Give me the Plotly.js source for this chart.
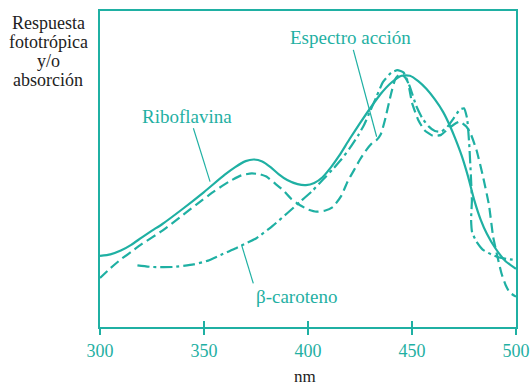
<!DOCTYPE html>
<html>
<head>
<meta charset="utf-8">
<script src="https://cdn.plot.ly/plotly-3.0.1.min.js"></script>
<style>html,body{margin:0;padding:0;background:#fff;}#chart{width:530px;height:389px;}</style>
</head>
<body>
<div id="chart"></div>
<script>
// Wavelengths (nm) and relative values
const nmRibo = [300,305,310,315,320,325,330,340,350,360,365,370,374,378,382,386,390,395,399,403,407,411,415,420,425,430,435,440,445,449,453,457,461,465,468,471,474,477,480,483,486,490,495,500];
const riboflavina = [22.5,23,24.2,26,28.3,30.5,32.6,37.5,42.7,48.2,50.6,52.5,53,52.4,50.6,48.3,46.5,45.2,44.9,45.6,47.4,50.5,54.2,59.5,64.5,69.3,73.8,77.3,79.5,79.5,77.8,75.3,72,68,64,59.3,54,47.5,40,34,29.5,25,20.8,18.4];

const nmAccion = [300,305,310,315,320,330,340,346,355,362,368,373,377,380,384,388,392,396,400,404,408,412,416,419,422,425,428,431,433,435,437,440,442,444,446,448,450,453,456,460,464,467,470,473,476,478,481,484,487,489,491,493,495,497,500];
const espectroAccion = [15.5,18.6,21.4,23.8,26.2,30.5,35.5,38.6,43,46,48,48.6,48.3,47.6,45.5,43.3,40.5,38.6,37.2,36.5,36.8,38,41.5,46,49.5,53,56,58.3,59.2,61,65.5,74,78.5,80,79.5,77.5,71,65.5,62.3,60.5,60.8,62.5,64,65,63.5,61.5,56,48,38.6,28.6,22.5,17,13.3,10.9,9.6];

const nmCaroteno = [318,325,335,345,352,358,364,368,375,383,390,396,402,407,412,416,420,424,427,430,433,436,440,443,446,449,452,455,458,461,464,467,470,473,475,476.5,477.5,478.3,478.8,478.4,478.9,481,484,488,492,496,500];
const betaCaroteno = [19.5,19,19,19.8,21,22.8,24.5,25.8,28,32,36,39.5,43,46.5,50,53,56.5,60.5,64,68.5,73,77.5,80.5,81.3,80.5,76,70,66,63.5,62,61.8,63.3,66,68.8,69.2,66,58,48,40,34,30,27,24.5,23,22,21.5,21.2];

const tickVals = [300,350,400,450,500];
const tickText = ['300','350','400','450','500'];
const innerTicks = [350,400,450];

const teal = '#1fb0a3';
const serif = 'Liberation Serif, Times New Roman, serif';

const traces = [
  {x: nmRibo, y: riboflavina, mode: 'lines', line: {color: teal, width: 2.2, shape: 'spline', smoothing: 0.6}, hoverinfo: 'skip'},
  {x: nmAccion, y: espectroAccion, mode: 'lines', line: {color: teal, width: 2.2, dash: '10px,5px', shape: 'spline', smoothing: 0.5}, hoverinfo: 'skip'},
  {x: nmCaroteno, y: betaCaroteno, mode: 'lines', line: {color: teal, width: 2.2, dash: '12px,4px,3px,4px', shape: 'spline', smoothing: 0.4}, hoverinfo: 'skip'},
  {x: [], y: [], xaxis: 'x2', yaxis: 'y', mode: 'lines', hoverinfo: 'skip'}
];

const yLabelLines = ['Respuesta', 'fototrópica', 'y/o', 'absorción'];
const yLabelPaperY = [0.962, 0.902, 0.842, 0.782];

const annotations = yLabelLines.map((t, i) => ({
  text: t, xref: 'paper', yref: 'paper', x: -0.125, y: yLabelPaperY[i],
  xanchor: 'center', yanchor: 'middle', showarrow: false,
  font: {family: serif, size: 18, color: '#222'}
}));
annotations.push(
  {text: 'nm', xref: 'paper', yref: 'paper', x: 0.493, y: -0.158, xanchor: 'center', yanchor: 'middle', showarrow: false, font: {family: serif, size: 17, color: '#222'}},
  {text: 'Espectro acción', xref: 'x', yref: 'y', x: 420.2, y: 91.5, xanchor: 'center', yanchor: 'middle', showarrow: false, font: {family: serif, size: 19, color: teal}},
  {text: 'Riboflavina', xref: 'x', yref: 'y', x: 341.7, y: 66.5, xanchor: 'center', yanchor: 'middle', showarrow: false, font: {family: serif, size: 19, color: teal}},
  {text: 'β-caroteno', xref: 'x', yref: 'y', x: 394.6, y: 9.8, xanchor: 'center', yanchor: 'middle', showarrow: false, font: {family: serif, size: 19, color: teal}}
);

const shapes = [
  {type: 'line', xref: 'x', yref: 'y', x0: 421.8, y0: 87.7, x1: 433, y1: 60.2, line: {color: teal, width: 1.2}},
  {type: 'line', xref: 'x', yref: 'y', x0: 344.9, y0: 62.9, x1: 352.9, y1: 46, line: {color: teal, width: 1.2}},
  {type: 'line', xref: 'x', yref: 'y', x0: 373.7, y0: 13.8, x1: 368.1, y1: 25.9, line: {color: teal, width: 1.2}}
];

const layout = {
  width: 530, height: 389,
  margin: {l: 100, r: 14, t: 11, b: 62},
  paper_bgcolor: '#fff', plot_bgcolor: '#fff',
  showlegend: false,
  xaxis: {
    range: [300, 500], tickmode: 'array', tickvals: tickVals, ticktext: tickText,
    ticks: 'outside', ticklen: 6, tickwidth: 1.5, tickcolor: teal,
    showline: true, linecolor: teal, linewidth: 2, mirror: true,
    showgrid: false, zeroline: false, fixedrange: true,
    ticklabeloverflow: 'allow',
    tickfont: {family: serif, size: 18, color: teal}
  },
  xaxis2: {
    overlaying: 'x', anchor: 'y', side: 'bottom', range: [300, 500],
    tickmode: 'array', tickvals: innerTicks, ticks: 'inside', ticklen: 6, tickwidth: 1.5, tickcolor: teal,
    showticklabels: false, showline: false, showgrid: false, zeroline: false, fixedrange: true
  },
  yaxis: {
    range: [0, 100], showticklabels: false, ticks: '',
    showline: true, linecolor: teal, linewidth: 2, mirror: true,
    showgrid: false, zeroline: false, fixedrange: true
  },
  annotations: annotations,
  shapes: shapes
};

Plotly.newPlot('chart', traces, layout, {displayModeBar: false, staticPlot: true});
</script>
</body>
</html>
